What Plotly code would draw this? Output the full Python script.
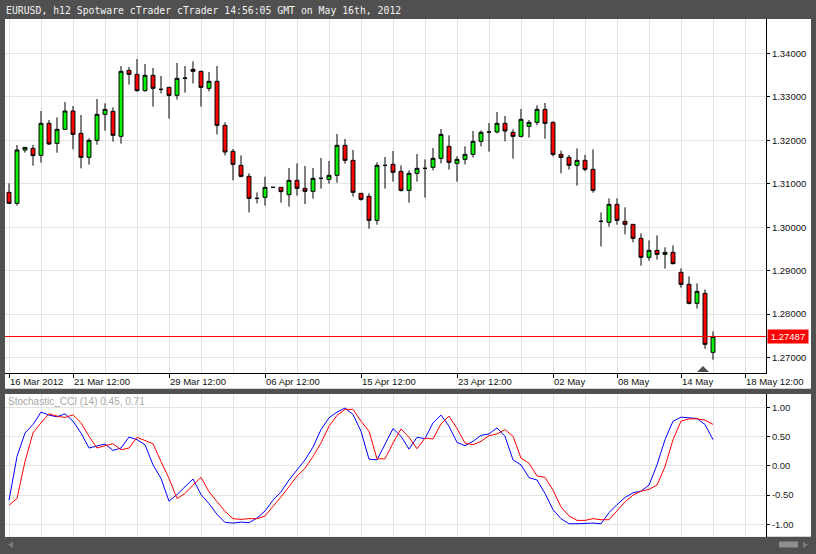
import plotly.graph_objects as go

# ---------------- data ----------------
open_ = [1.30802, 1.30549, 1.31776, 1.31814, 1.31653, 1.32389, 1.31929, 1.32251, 1.32673, 1.32159,
         1.31607, 1.31998, 1.32596, 1.32665, 1.32090, 1.33608, 1.33516, 1.33141, 1.33493, 1.33171,
         1.33217, 1.33033, 1.33424, 1.33631, 1.33585, 1.33194, 1.33355, 1.32343, 1.31745, 1.31423,
         1.31170, 1.30664, 1.30687, 1.30917, 1.30917, 1.30749, 1.31078, 1.30894, 1.30825, 1.31124,
         1.31101, 1.31193, 1.31883, 1.31538, 1.30779, 1.30710, 1.30158, 1.31423, 1.31446, 1.31285,
         1.30848, 1.31239, 1.31354, 1.31377, 1.31584, 1.31860, 1.31469, 1.31561, 1.31676, 1.31975,
         1.32190, 1.32190, 1.32389, 1.32182, 1.32090, 1.32320, 1.32412, 1.32711, 1.32412, 1.31676,
         1.31607, 1.31423, 1.31538, 1.31331, 1.30135, 1.30112, 1.30526, 1.30135, 1.30066, 1.29744,
         1.29307, 1.29468, 1.29376, 1.29422, 1.28962, 1.28686, 1.28249, 1.28479, 1.27122]

high = [1.31009, 1.31891, 1.31837, 1.31891, 1.32673, 1.32466, 1.32527, 1.32880, 1.32788, 1.32581,
        1.32044, 1.32949, 1.32849, 1.32757, 1.33708, 1.33685, 1.33869, 1.33754, 1.33662, 1.33478,
        1.33217, 1.33777, 1.33708, 1.33815, 1.33601, 1.33570, 1.33708, 1.32412, 1.31799, 1.31653,
        1.31239, 1.30802, 1.31163, 1.30920, 1.30917, 1.31362, 1.31469, 1.31408, 1.31362, 1.31592,
        1.31523, 1.32144, 1.32029, 1.31776, 1.30779, 1.30779, 1.31492, 1.31615, 1.31753, 1.31423,
        1.31308, 1.31684, 1.31561, 1.31822, 1.32259, 1.32113, 1.31630, 1.31860, 1.32213, 1.32228,
        1.32397, 1.32650, 1.32558, 1.32251, 1.32719, 1.32466, 1.32803, 1.32857, 1.32435, 1.31761,
        1.31661, 1.31814, 1.31661, 1.31791, 1.30342, 1.30664, 1.30664, 1.30457, 1.30066, 1.29859,
        1.29698, 1.29813, 1.29537, 1.29583, 1.29054, 1.28870, 1.28709, 1.28571, 1.27605]

low = [1.30534, 1.30496, 1.31715, 1.31416, 1.31485, 1.31891, 1.31715, 1.32251, 1.31791, 1.31354,
       1.31439, 1.31899, 1.32221, 1.31968, 1.31922, 1.33279, 1.33118, 1.33118, 1.32773, 1.33079,
       1.32497, 1.32934, 1.33095, 1.33309, 1.32773, 1.33125, 1.32136, 1.31653, 1.31078, 1.31147,
       1.30342, 1.30549, 1.30496, 1.30914, 1.30565, 1.30473, 1.30726, 1.30534, 1.30657, 1.30887,
       1.31002, 1.31025, 1.31462, 1.30703, 1.30611, 1.29966, 1.30058, 1.30887, 1.31048, 1.30818,
       1.30565, 1.31048, 1.30680, 1.31308, 1.31469, 1.31324, 1.31048, 1.31446, 1.31607, 1.31860,
       1.31738, 1.32159, 1.31975, 1.31577, 1.32067, 1.32060, 1.32343, 1.32037, 1.31630, 1.31239,
       1.31324, 1.30956, 1.31285, 1.30795, 1.29560, 1.30013, 1.30059, 1.29836, 1.29652, 1.29115,
       1.29231, 1.29254, 1.29047, 1.29146, 1.28610, 1.28226, 1.28126, 1.27206, 1.26953]

close = [1.30549, 1.31776, 1.31837, 1.31646, 1.32389, 1.31914, 1.32251, 1.32673, 1.32136, 1.31607,
         1.31998, 1.32596, 1.32711, 1.32113, 1.33585, 1.33516, 1.33141, 1.33493, 1.33194, 1.33171,
         1.33033, 1.33424, 1.33430, 1.33585, 1.33217, 1.33355, 1.32343, 1.31730, 1.31446, 1.31170,
         1.30664, 1.30664, 1.30917, 1.30917, 1.30818, 1.31078, 1.30894, 1.30825, 1.31124, 1.31124,
         1.31193, 1.31883, 1.31538, 1.30802, 1.30641, 1.30158, 1.31423, 1.31423, 1.31262, 1.30848,
         1.31239, 1.31354, 1.31354, 1.31584, 1.32136, 1.31492, 1.31561, 1.31676, 1.31975, 1.32182,
         1.32190, 1.32389, 1.32213, 1.32090, 1.32481, 1.32412, 1.32711, 1.32389, 1.31676, 1.31607,
         1.31423, 1.31538, 1.31331, 1.30848, 1.30135, 1.30526, 1.30158, 1.30066, 1.29744, 1.29307,
         1.29468, 1.29376, 1.29422, 1.29162, 1.28686, 1.28249, 1.28525, 1.27306, 1.27487]

stoch_cci = [-0.586, 0.161, 0.563, 0.707, 0.920, 0.868, 0.839, 0.891, 0.764, 0.563,
             0.305, 0.333, 0.374, 0.264, 0.305, 0.494, 0.448, 0.362, 0.017, -0.213,
             -0.603, -0.489, -0.356, -0.224, -0.489, -0.644, -0.828, -0.966, -0.977, -0.960,
             -0.971, -0.891, -0.770, -0.586, -0.443, -0.241, -0.069, 0.103, 0.322, 0.621,
             0.822, 0.920, 0.989, 0.879, 0.592, 0.115, 0.103, 0.362, 0.638, 0.506,
             0.287, 0.489, 0.466, 0.736, 0.868, 0.678, 0.402, 0.345, 0.420, 0.523,
             0.546, 0.649, 0.506, 0.103, 0.017, -0.201, -0.241, -0.471, -0.747, -0.902,
             -0.989, -0.989, -0.977, -0.977, -0.989, -0.799, -0.661, -0.540, -0.460, -0.431,
             -0.328, 0.017, 0.448, 0.764, 0.833, 0.816, 0.810, 0.707, 0.450]

stoch_signal = [-0.672, -0.557, 0.075, 0.563, 0.736, 0.891, 0.851, 0.828, 0.874, 0.736,
                0.506, 0.305, 0.345, 0.379, 0.276, 0.305, 0.489, 0.437, 0.379, 0.075,
                -0.213, -0.557, -0.471, -0.328, -0.195, -0.443, -0.615, -0.776, -0.902, -0.914,
                -0.902, -0.902, -0.856, -0.701, -0.529, -0.356, -0.172, -0.040, 0.161, 0.391,
                0.678, 0.862, 0.966, 0.966, 0.764, 0.592, 0.121, 0.121, 0.391, 0.632,
                0.489, 0.293, 0.477, 0.460, 0.718, 0.851, 0.638, 0.391, 0.362, 0.420,
                0.517, 0.546, 0.621, 0.506, 0.132, 0.046, -0.172, -0.195, -0.414, -0.701,
                -0.856, -0.931, -0.931, -0.902, -0.920, -0.920, -0.759, -0.615, -0.500, -0.431,
                -0.402, -0.328, -0.011, 0.448, 0.764, 0.805, 0.805, 0.782, 0.710]

x_tick_idx = [0, 8, 20, 32, 44, 56, 68, 76, 84, 92]
x_tick_text = ["16 Mar 2012", "21 Mar 12:00", "29 Mar 12:00", "06 Apr 12:00", "15 Apr 12:00",
               "23 Apr 12:00", "02 May", "08 May", "14 May", "18 May 12:00"]
price_ticks = [1.27, 1.28, 1.29, 1.30, 1.31, 1.32, 1.33, 1.34]
ind_ticks = [-1.0, -0.5, 0.0, 0.5, 1.0]
ind_tick_text = ["-1.00", "-0.50", "0.00", "0.50", "1.00"]

title_text = "EURUSD, h12 Spotware cTrader cTrader 14:56:05 GMT on May 16th, 2012"
ind_name = "Stochastic_CCI (14)"

# ---------------- layout helpers ----------------
W, H = 816, 554
def px(v):
    return v / W
def py(v):
    return 1 - v / H

FRAME = "#505050"
GRID = "#e4e4e4"
FONT = "Liberation Sans, Arial, sans-serif"
TICK_SIZE = 9.5

xs = list(range(len(open_)))

fig = go.Figure()
fig.add_trace(go.Candlestick(
    x=xs, open=open_, high=high, low=low, close=close,
    increasing=dict(fillcolor="#00f000", line=dict(color="black", width=1)),
    decreasing=dict(fillcolor="#ff0000", line=dict(color="black", width=1)),
    xaxis="x", yaxis="y", showlegend=False, hoverinfo="skip"))

fig.add_trace(go.Scatter(x=xs, y=stoch_cci, mode="lines",
                         line=dict(color="#0000ff", width=1),
                         xaxis="x2", yaxis="y2", showlegend=False, hoverinfo="skip"))
fig.add_trace(go.Scatter(x=xs, y=stoch_signal, mode="lines",
                         line=dict(color="#ff0000", width=1),
                         xaxis="x2", yaxis="y2", showlegend=False, hoverinfo="skip"))

x_range = [-0.5, 94.625]
xdom = [px(5), px(766)]
minor_grid = dict(tickmode="linear", tick0=0, dtick=4, showgrid=True,
                  gridcolor=GRID, gridwidth=1, ticks="")

fig.update_layout(
    width=W, height=H,
    margin=dict(l=0, r=0, t=0, b=0, autoexpand=False),
    paper_bgcolor=FRAME, plot_bgcolor="white",
    hovermode=False, showlegend=False,
    xaxis=dict(domain=xdom, range=x_range, anchor="y", automargin=False,
               tickmode="array", tickvals=x_tick_idx, ticktext=x_tick_text, tickangle=0,
               ticklabelposition="outside right", ticks="outside", ticklen=4,
               tickcolor="black", tickwidth=1,
               tickfont=dict(family=FONT, size=TICK_SIZE, color="#111111"),
               showline=True, linecolor="black", linewidth=1,
               showgrid=True, gridcolor=GRID, gridwidth=1, zeroline=False,
               minor=minor_grid, rangeslider=dict(visible=False), fixedrange=True),
    yaxis=dict(domain=[py(373), py(19)], range=[1.26647, 1.34789], anchor="x",
               automargin=False,
               side="right", tickmode="array", tickvals=price_ticks, tickformat=".5f",
               ticks="outside", ticklen=3, tickcolor="black",
               tickfont=dict(family=FONT, size=TICK_SIZE, color="#111111"),
               showline=True, linecolor="black", linewidth=1,
               showgrid=True, gridcolor=GRID, gridwidth=1, zeroline=False, fixedrange=True),
    xaxis2=dict(domain=xdom, range=x_range, anchor="y2", matches="x", automargin=False,
                tickmode="array", tickvals=x_tick_idx, showticklabels=False, ticks="",
                showline=False, showgrid=True, gridcolor=GRID, gridwidth=1,
                zeroline=False, minor=minor_grid, fixedrange=True),
    yaxis2=dict(domain=[py(536.7), py(394)], range=[-1.21, 1.229], anchor="x2",
                automargin=False,
                side="right", tickmode="array", tickvals=ind_ticks, ticktext=ind_tick_text,
                ticks="outside", ticklen=3, tickcolor="black",
                tickfont=dict(family=FONT, size=TICK_SIZE, color="#222222"),
                showline=True, linecolor="black", linewidth=1,
                showgrid=True, gridcolor=GRID, gridwidth=1, zeroline=False, fixedrange=True),
)

shapes = [
    # white panels
    dict(type="rect", xref="paper", yref="paper", x0=px(5), x1=px(811),
         y0=py(388.7), y1=py(19), fillcolor="white", line=dict(width=0), layer="below"),
    dict(type="rect", xref="paper", yref="paper", x0=px(5), x1=px(811),
         y0=py(536.7), y1=py(394), fillcolor="white", line=dict(width=0), layer="below"),
    # current price line
    dict(type="line", xref="x domain", yref="y", x0=0, x1=1, y0=close[-1], y1=close[-1],
         line=dict(color="#ff0000", width=1)),
    # current bar marker on time axis
    dict(type="path", xref="paper", yref="paper",
         path=f"M {px(697)},{py(372)} L {px(709)},{py(372)} L {px(703)},{py(366)} Z",
         fillcolor="#505050", line=dict(width=0)),
    # scrollbar decorations
    dict(type="rect", xref="paper", yref="paper", x0=px(779), x1=px(798),
         y0=py(547.5), y1=py(541.5), fillcolor="#8e8e8e", line=dict(width=0)),
    dict(type="path", xref="paper", yref="paper",
         path=f"M {px(803)},{py(541.5)} L {px(803)},{py(548)} L {px(808)},{py(544.7)} Z",
         fillcolor="#7a7a7a", line=dict(width=0)),
    dict(type="path", xref="paper", yref="paper",
         path=f"M {px(13)},{py(541.5)} L {px(13)},{py(548)} L {px(8)},{py(544.7)} Z",
         fillcolor="#7a7a7a", line=dict(width=0)),
]
fig.update_layout(shapes=shapes)

annotations = [
    dict(xref="paper", yref="paper", x=px(4), y=py(10), xanchor="left", yanchor="middle",
         text=title_text, showarrow=False,
         font=dict(family="DejaVu Sans Mono, monospace", size=9.8, color="#f2f2f2")),
    dict(xref="paper", yref="paper", x=px(6), y=py(401.5), xanchor="left", yanchor="middle",
         text=f"{ind_name} {stoch_cci[-1]:.2f}, {stoch_signal[-1]:.2f}", showarrow=False,
         font=dict(family=FONT, size=10, color="#a8a8a8")),
    dict(xref="paper", yref="y", x=px(766.5), y=close[-1], xanchor="left", yanchor="middle",
         text=f"{close[-1]:.5f}", showarrow=False, bgcolor="#ff0000", borderpad=1,
         width=38, align="center",
         font=dict(family=FONT, size=TICK_SIZE, color="white")),
]
fig.update_layout(annotations=annotations)

fig.write_html(
    "out.html",
    config={"displayModeBar": False},
    post_script="document.body.style.margin='0';document.body.style.overflow='hidden';"
                "document.documentElement.style.overflow='hidden';",
)
